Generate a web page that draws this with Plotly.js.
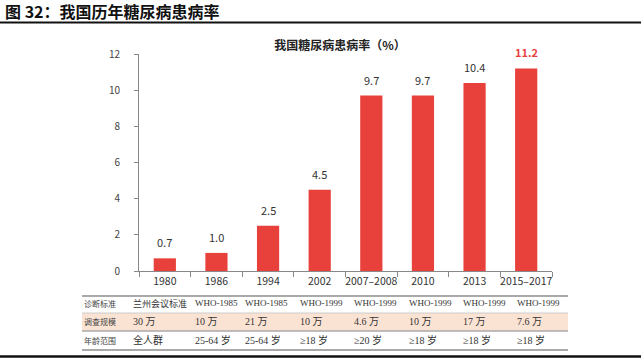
<!DOCTYPE html>
<html><head><meta charset="utf-8">
<script src="https://cdn.plot.ly/plotly-3.0.1.min.js"></script>
<style>body{margin:0;padding:0;background:#fff}#chart{width:641px;height:359px}</style>
</head><body><div id="chart"></div>
<script>
const categories = ["1980","1986","1994","2002","2007–2008","2010","2013","2015–2017"];
const prevalence = [0.7, 1.0, 2.5, 4.5, 9.7, 9.7, 10.4, 11.2];
const rowLabels = ["诊断标准","调查规模","年龄范围"];
const diagStandard = ["兰州会议标准","WHO-1985","WHO-1985","WHO-1999","WHO-1999","WHO-1999","WHO-1999","WHO-1999"];
const surveyScale = ["30 万","10 万","21 万","10 万","4.6 万","10 万","17 万","7.6 万"];
const ageRange = ["全人群","25-64 岁","25-64 岁","≥18 岁","≥20 岁","≥18 岁","≥18 岁","≥18 岁"];
const yTicks = [0,2,4,6,8,10,12];

const L = 139, R = 552, T = 54, B = 271;
const W = R - L, H = B - T;
const px = x => (x - L) / W;
const py = y => (B - y) / H;

const colX = [131,193,243,298,352,407,461,515];
const rowY = [303,321,340];
const rows = [diagStandard, surveyScale, ageRange];

const annotations = [];
annotations.push({xref:'paper',yref:'paper',x:px(3),y:py(11),xanchor:'left',yanchor:'middle',showarrow:false,
  text:'<b>图 32：我国历年糖尿病患病率</b>',font:{family:'Noto Sans CJK SC',size:16,color:'#111'}});
// value labels
prevalence.forEach((v,i)=>{
  const last = i === prevalence.length-1;
  annotations.push({xref:'x',yref:'y',x:i,y:v,yanchor:'bottom',yshift:6,showarrow:false,
    text: last ? '<b>'+v.toFixed(1)+'</b>' : v.toFixed(1),
    font:{family:'Noto Sans CJK SC',size:11,color:last?'#E8403A':'#333'}});
});
rowLabels.forEach((t,r)=>{
  annotations.push({xref:'paper',yref:'paper',x:px(82),y:py(rowY[r]),xanchor:'left',yanchor:'middle',showarrow:false,
    text:t,font:{family:'Noto Sans CJK SC',size:8,color:'#444'}});
  rows[r].forEach((s,c)=>{
    annotations.push({xref:'paper',yref:'paper',x:px(colX[c]),y:py(rowY[r]),xanchor:'left',yanchor:'middle',showarrow:false,
      text:s,font:{family:'Liberation Serif, Noto Sans CJK SC',size:(r===0?9:10),color:'#333'}});
  });
});

const shapes = [
  {type:'line',xref:'paper',yref:'paper',x0:px(0),x1:px(641),y0:py(22.5),y1:py(22.5),line:{color:'#111',width:2}},
  {type:'rect',xref:'paper',yref:'paper',x0:px(82),x1:px(568),y0:py(313),y1:py(331),fillcolor:'#FBE3D4',line:{width:0},layer:'below'},
  {type:'line',xref:'paper',yref:'paper',x0:px(82),x1:px(568),y0:py(296),y1:py(296),line:{color:'#AAAAAA',width:2}},
  {type:'line',xref:'paper',yref:'paper',x0:px(82),x1:px(568),y0:py(313),y1:py(313),line:{color:'#CCCCCC',width:1}},
  {type:'line',xref:'paper',yref:'paper',x0:px(82),x1:px(568),y0:py(331),y1:py(331),line:{color:'#AAAAAA',width:1.5}},
  {type:'line',xref:'paper',yref:'paper',x0:px(82),x1:px(568),y0:py(350),y1:py(350),line:{color:'#AAAAAA',width:2}},
  {type:'line',xref:'paper',yref:'paper',x0:px(0),x1:px(641),y0:py(356.5),y1:py(356.5),line:{color:'#111',width:2.5}}
];

const data = [{
  type:'bar', x:categories, y:prevalence, marker:{color:'#E8403A'}, width:0.43, hoverinfo:'none'
}];

const layout = {
  width:641, height:359,
  margin:{l:L, r:641-R, t:T, b:359-B, pad:0},
  paper_bgcolor:'#fff', plot_bgcolor:'#fff',
  showlegend:false,
  title:{text:'<b>我国糖尿病患病率（%）</b>', xref:'paper', x:px(340), xanchor:'center', yref:'container', y:1-46/359, yanchor:'middle',
    font:{family:'Noto Sans CJK SC', size:12, color:'#222'}},
  xaxis:{type:'category', range:[-0.5,7.5], showline:true, linecolor:'#888', linewidth:1, ticks:'outside', tickson:'boundaries',
    ticklen:5, tickcolor:'#888', showgrid:false, zeroline:false, tickangle:0, automargin:false,
    tickfont:{family:'Noto Sans CJK SC', size:10.5, color:'#333'}},
  yaxis:{range:[0,12], tickvals:yTicks, showline:true, linecolor:'#888', linewidth:1, ticks:'outside', ticklen:4, tickcolor:'#888',
    showgrid:false, zeroline:false, ticklabelstandoff:12, automargin:false,
    tickfont:{family:'Noto Sans CJK SC', size:10, color:'#444'}},
  annotations, shapes
};
Plotly.newPlot('chart', data, layout, {staticPlot:true, displayModeBar:false});
</script></body></html>
